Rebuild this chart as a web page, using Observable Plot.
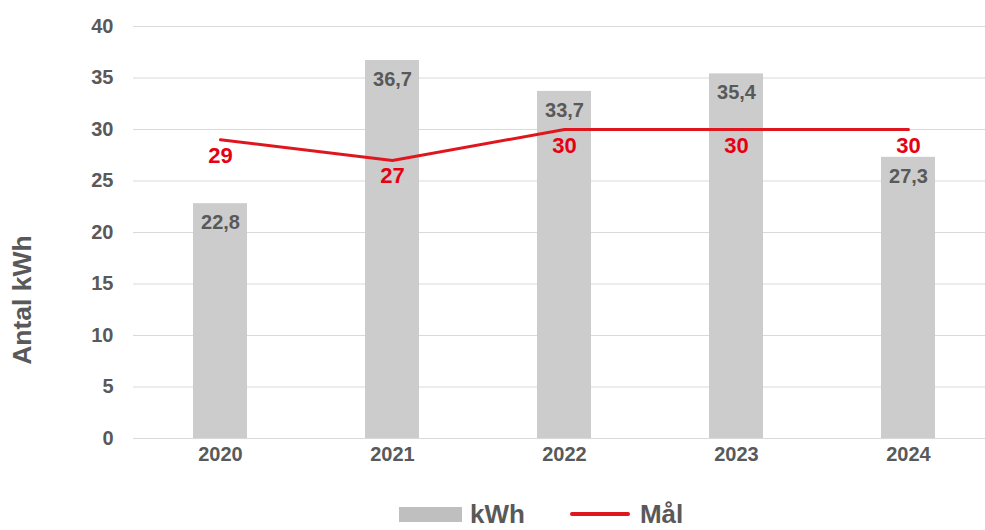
<!DOCTYPE html>
<html>
<head>
<meta charset="utf-8">
<script src="https://cdn.jsdelivr.net/npm/d3@7"></script>
<script src="https://cdn.jsdelivr.net/npm/@observablehq/plot@0.6"></script>
<style>
  html, body { margin: 0; padding: 0; background: #fff; }
  #wrap { position: relative; width: 985px; height: 530px; overflow: hidden; font-family: "Liberation Sans", Arial, sans-serif; }
  #legend { position: absolute; left: 399px; top: 497px; height: 34px; display: flex; align-items: center; font-weight: bold; font-size: 26px; color: #595959; }
  .sw-bar { width: 63px; height: 15px; background: #BFBFBF; margin-right: 8px; }
  .sw-line { width: 60px; height: 4px; background: #E0161E; border-radius: 2px; margin-left: 45px; margin-right: 10px; }
  #ytitle { position: absolute; left: -78px; top: 285px; width: 200px; height: 30px; line-height: 30px; text-align: center; transform: rotate(-90deg); font-weight: bold; font-size: 26.5px; color: #595959; white-space: nowrap; }
</style>
</head>
<body>
<div id="wrap"><div id="chart"></div>
<div id="ytitle"></div>
<div id="legend"><div class="sw-bar"></div><span>kWh</span><div class="sw-line"></div><span>Mål</span></div>
</div>
<script>
const years = ["2020", "2021", "2022", "2023", "2024"];
const kwh = [22.8, 36.7, 33.7, 35.4, 27.3];
const goal = [29, 27, 30, 30, 30];
const yTicks = [0, 5, 10, 15, 20, 25, 30, 35, 40];
const yTitle = "Antal kWh";

document.getElementById("ytitle").textContent = yTitle;

const rows = years.map((y, i) => ({year: y, kwh: kwh[i], goal: goal[i]}));
const fmt = v => v.toFixed(1).replace(".", ",");
const grey = "#595959";

const chart = Plot.plot({
  width: 985,
  height: 480,
  marginLeft: 133,
  marginRight: -10,
  marginTop: 26,
  marginBottom: 42,
  style: {fontFamily: "'Liberation Sans', Arial, sans-serif", overflow: "visible"},
  x: {domain: years, paddingInner: 0.687, paddingOuter: 0.3435, label: null},
  y: {domain: [0, 40], ticks: yTicks, label: null},
  marks: [
    Plot.gridY(yTicks, {stroke: "#D9D9D9", strokeOpacity: 1, strokeWidth: 1}),
    Plot.barY(rows, {x: "year", y: "kwh", fill: "#CCCCCC"}),
    Plot.lineY(rows, {x: "year", y: "goal", stroke: "#E0161E", strokeWidth: 3}),
    Plot.text(rows, {x: "year", y: "kwh", text: d => fmt(d.kwh), dy: 19, fill: grey, fontSize: 20, fontWeight: "bold", lineAnchor: "middle"}),
    Plot.text(rows, {x: "year", y: "goal", text: d => String(d.goal), dy: 16, fill: "#E60012", fontSize: 22, fontWeight: "bold", lineAnchor: "middle"}),
    Plot.axisY({ticks: yTicks, tickSize: 0, tickPadding: 20, fontSize: 20, fontWeight: "bold", color: grey, label: null}),
    Plot.axisX({tickSize: 0, tickPadding: 8, fontSize: 20, fontWeight: "bold", color: grey, label: null})
  ]
});
document.getElementById("chart").appendChild(chart);
</script>
</body>
</html>
